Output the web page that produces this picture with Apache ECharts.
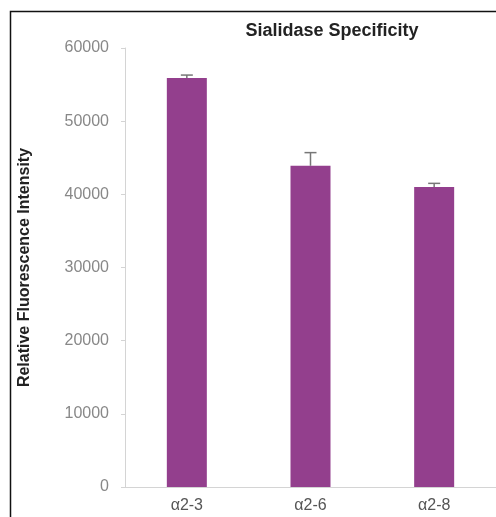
<!DOCTYPE html>
<html>
<head>
<meta charset="utf-8">
<script src="https://cdn.jsdelivr.net/npm/echarts@6/dist/echarts.min.js"></script>
<style>
html,body{margin:0;padding:0;background:#fff;}
#chart{width:496px;height:517px;}
</style>
</head>
<body>
<div id="chart"></div>
<script>
const categories = ['α2-3', 'α2-6', 'α2-8'];
const values = [55900, 43900, 41000];
const errors = [400, 1800, 500];
const yTicks = [0, 10000, 20000, 30000, 40000, 50000, 60000];

const chart = echarts.init(document.getElementById('chart'));
const FONT = '"Liberation Sans", Arial, Helvetica, sans-serif';

chart.setOption({
  animation: false,
  backgroundColor: '#fff',
  title: {
    text: 'Sialidase Specificity',
    left: 327, top: 17,
    textAlign: 'center',
    textStyle: {fontFamily: FONT, fontWeight: 'bold', fontSize: 18, color: '#222'}
  },
  graphic: [{
    type: 'rect',
    shape: {x: 10.5, y: 11.5, width: 500, height: 520},
    style: {fill: 'none', stroke: '#111', lineWidth: 1.5},
    silent: true
  }],
  grid: {left: 125, top: 48, width: 375, height: 439},
  xAxis: {
    type: 'category',
    data: categories,
    axisLine: {lineStyle: {color: '#d4d4d4', width: 1}},
    axisTick: {show: false},
    axisLabel: {fontFamily: FONT, fontSize: 16, color: '#555', margin: 11}
  },
  yAxis: {
    type: 'value',
    min: yTicks[0], max: yTicks[yTicks.length - 1], interval: 10000,
    name: 'Relative Fluorescence Intensity',
    nameLocation: 'middle',
    nameGap: 92,
    nameTextStyle: {fontFamily: FONT, fontWeight: 'bold', fontSize: 16, color: '#222'},
    axisLine: {show: true, lineStyle: {color: '#d4d4d4', width: 1}},
    axisTick: {show: true, length: 4, lineStyle: {color: '#d4d4d4'}},
    splitLine: {show: false},
    axisLabel: {fontFamily: FONT, fontSize: 16, color: '#888', margin: 16, formatter: v => String(v)}
  },
  series: [{
    type: 'bar',
    data: values,
    barWidth: 40,
    itemStyle: {color: '#933f8d'}
  }, {
    type: 'custom',
    data: values.map((v, i) => [i, v, v + errors[i]]),
    renderItem: function (params, api) {
      const base = api.coord([api.value(0), api.value(1)]);
      const top = api.coord([api.value(0), api.value(2)]);
      const half = 6;
      const st = {stroke: '#777', lineWidth: 1.5};
      return {
        type: 'group',
        children: [
          {type: 'line', shape: {x1: base[0], y1: base[1], x2: top[0], y2: top[1]}, style: st},
          {type: 'line', shape: {x1: top[0] - half, y1: top[1], x2: top[0] + half, y2: top[1]}, style: st}
        ]
      };
    },
    z: 3
  }]
});
</script>
</body>
</html>
